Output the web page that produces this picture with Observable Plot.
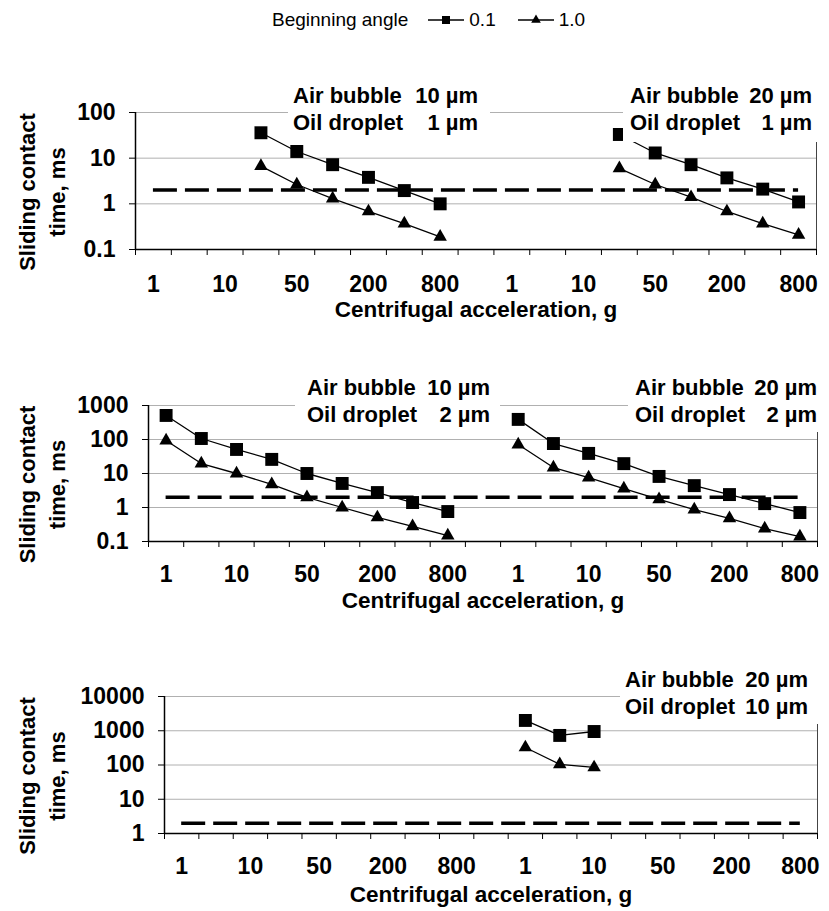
<!DOCTYPE html>
<html>
<head>
<meta charset="utf-8">
<script src="https://cdn.jsdelivr.net/npm/d3@7"></script>
<script src="https://cdn.jsdelivr.net/npm/@observablehq/plot@0.6"></script>
<style>
  html, body { margin: 0; padding: 0; overflow: hidden; background: #fff; }
  #root { position: relative; width: 829px; height: 911px; overflow: hidden; background: #fff;
          font-family: "Liberation Sans", Arial, Helvetica, sans-serif; color: #000; }
  #legend { position: absolute; top: 8px; left: 272px; height: 24px; display: flex; align-items: center;
            font-size: 19px; line-height: 24px; white-space: nowrap; }
  #legend .sw { display: block; margin: 0 5px 0 0; }
  .note { position: absolute; background: #fff; font-weight: bold; font-size: 22px; line-height: 27px; }
  .note .row { display: flex; justify-content: space-between; white-space: nowrap; }
</style>
</head>
<body>
<div id="root">
  <div id="legend"></div>
</div>
<script>
// ---------------- DATA ----------------
const accelCategories = ["1", "5", "10", "25", "50", "100", "200", "400", "800"];
const labeledAccel = ["1", "10", "50", "200", "800"];
const angleLabels = ["0.1", "1.0"];
const legendTitle = "Beginning angle";
const thresholdMs = 2;
const xTitle = "Centrifugal acceleration, g";
const yTitle = "Sliding contact\ntime, ms";
const bubbleLabel = "Air bubble";
const dropletLabel = "Oil droplet";

// Panel 1 — oil droplet 1 µm
const p1Cats = ["25", "50", "100", "200", "400", "800"];
const p1Bubble10Angle01 = [36, 14, 7.2, 3.8, 1.95, 1.0];
const p1Bubble10Angle10 = [6.7, 2.65, 1.3, 0.68, 0.37, 0.19];
const p1Bubble20Angle01 = [33, 13, 7.2, 3.7, 2.1, 1.1];
const p1Bubble20Angle10 = [6.0, 2.65, 1.4, 0.68, 0.37, 0.21];
const p1YTicks = [0.1, 1, 10, 100];
const p1Notes = [["10 µm", "1 µm"], ["20 µm", "1 µm"]];

// Panel 2 — oil droplet 2 µm
const p2Cats = ["1", "5", "10", "25", "50", "100", "200", "400", "800"];
const p2Bubble10Angle01 = [510, 107, 51, 26, 10, 5.1, 2.75, 1.4, 0.76];
const p2Bubble10Angle10 = [93, 19.6, 10, 4.8, 2.0, 1.0, 0.51, 0.28, 0.15];
const p2Bubble20Angle01 = [390, 76, 39, 19.5, 8.2, 4.4, 2.4, 1.3, 0.71];
const p2Bubble20Angle10 = [71, 15, 7.6, 3.6, 1.74, 0.87, 0.48, 0.24, 0.14];
const p2YTicks = [0.1, 1, 10, 100, 1000];
const p2Notes = [["10 µm", "2 µm"], ["20 µm", "2 µm"]];

// Panel 3 — oil droplet 10 µm
const p3Cats = ["1", "5", "10"];
const p3Bubble20Angle01 = [2000, 730, 950];
const p3Bubble20Angle10 = [325, 105, 85];
const p3YTicks = [1, 10, 100, 1000, 10000];
const p3Notes = [["20 µm", "10 µm"]];

// ---------------- BUILD ----------------
// Category axis: left half, an empty slot, right half
const axisCategories = [...accelCategories.map(c => "L" + c), "gap", ...accelCategories.map(c => "R" + c)];
const xIndex = (half, cat) => axisCategories.indexOf(half + cat);
const tickIdx = axisCategories.map((c, i) => i).filter(i => axisCategories[i] !== "gap" && labeledAccel.includes(axisCategories[i].slice(1)));
const boundaries = d3.range(axisCategories.length + 1).map(i => i - 0.5);
const firstIdx = 0, lastIdx = axisCategories.length - 1;

function rows(half, cats, values, angle) {
  return values.map((v, i) => ({x: xIndex(half, cats[i]), y: v, angle, half}));
}

const root = document.getElementById("root");
const FONT = '"Liberation Sans", Arial, Helvetica, sans-serif';

function panel(cfg) {
  const {top, height, marginTop, marginBottom, marginLeft, marginRight, yTicks, data, labelPad, titleDy} = cfg;
  const frameH = height - marginTop - marginBottom;
  const yDomain = [yTicks[0], yTicks[yTicks.length - 1]];
  const sq = data.filter(d => d.angle === angleLabels[0]);
  const tri = data.filter(d => d.angle === angleLabels[1]);
  const chart = Plot.plot({
    width: 829, height, marginTop, marginBottom, marginLeft, marginRight,
    style: {fontFamily: FONT, fontSize: "23px", fontWeight: "bold", color: "#000", background: "transparent", overflow: "visible"},
    x: {type: "linear", domain: [-0.5, axisCategories.length - 0.5], ticks: tickIdx,
        tickFormat: i => axisCategories[i].slice(1), tickSize: 0, tickPadding: labelPad, label: null},
    y: {type: "log", domain: yDomain, ticks: yTicks, tickFormat: d => String(d), tickSize: 6, tickPadding: 14, label: null},
    marks: [
      Plot.ruleY(yTicks.slice(1), {y: d => d, stroke: "#b0b0b0", strokeWidth: 1}),
      Plot.ruleX([lastIdx + 0.5], {x: d => d, stroke: "#444", strokeWidth: 1}),
      Plot.ruleX([-0.5], {x: d => d, stroke: "#000", strokeWidth: 1.5}),
      Plot.ruleY([yDomain[0]], {y: d => d, stroke: "#000", strokeWidth: 1.5}),
      Plot.ruleX(boundaries, {x: d => d, insetTop: frameH, insetBottom: -6, stroke: "#000", strokeWidth: 1}),
      Plot.ruleY([thresholdMs], {y: d => d, x1: () => firstIdx, x2: () => lastIdx, stroke: "#000", strokeWidth: 3.5, strokeDasharray: "24,8"}),
      Plot.line(data, {x: "x", y: "y", z: d => d.angle + d.half, stroke: "#000", strokeWidth: 1.3}),
      Plot.dot(sq, {x: "x", y: "y", symbol: "square", r: 7.3, fill: "#000", stroke: "none"}),
      Plot.dot(tri, {x: "x", y: "y", symbol: "triangle", r: 5, fill: "#000", stroke: "none"}),
      Plot.text([xTitle], {text: d => d, frameAnchor: "bottom", dy: titleDy, lineAnchor: "middle", textAnchor: "middle",
                           fontSize: 22.5, fontWeight: "bold", fill: "#000"}),
      Plot.text([yTitle], {text: d => d, frameAnchor: "left", dx: 40 - marginLeft, dy: 11, rotate: -90,
                           lineAnchor: "middle", textAnchor: "middle", lineHeight: 1.38, fontSize: 22, fontWeight: "bold", fill: "#000"})
    ]
  });
  chart.style.position = "absolute";
  chart.style.left = "0px";
  chart.style.top = top + "px";
  root.appendChild(chart);
}

function note(texts, box) {
  const div = document.createElement("div");
  div.className = "note";
  div.style.left = box.left + "px";
  div.style.top = box.top + "px";
  div.style.width = box.width + "px";
  div.style.padding = box.padding;
  [[bubbleLabel, texts[0]], [dropletLabel, texts[1]]].forEach(([a, b]) => {
    const r = document.createElement("div");
    r.className = "row";
    const s1 = document.createElement("span"); s1.textContent = a;
    const s2 = document.createElement("span"); s2.textContent = b;
    r.appendChild(s1); r.appendChild(s2);
    div.appendChild(r);
  });
  root.appendChild(div);
}

// Panel 1
panel({top: 60, height: 260, marginTop: 52, marginBottom: 71, marginLeft: 135, marginRight: 13,
  yTicks: p1YTicks, labelPad: 26, titleDy: 60,
  data: [
    ...rows("L", p1Cats, p1Bubble10Angle01, angleLabels[0]),
    ...rows("L", p1Cats, p1Bubble10Angle10, angleLabels[1]),
    ...rows("R", p1Cats, p1Bubble20Angle01, angleLabels[0]),
    ...rows("R", p1Cats, p1Bubble20Angle10, angleLabels[1])
  ]});
note(p1Notes[0], {left: 288, top: 78, width: 185, padding: "4px 12px 6px 5px"});
note(p1Notes[1], {left: 623, top: 78, width: 182, padding: "4px 17px 6px 7px"});

// Panel 2
panel({top: 330, height: 290, marginTop: 75, marginBottom: 79, marginLeft: 148, marginRight: 12,
  yTicks: p2YTicks, labelPad: 24, titleDy: 59,
  data: [
    ...rows("L", p2Cats, p2Bubble10Angle01, angleLabels[0]),
    ...rows("L", p2Cats, p2Bubble10Angle10, angleLabels[1]),
    ...rows("R", p2Cats, p2Bubble20Angle01, angleLabels[0]),
    ...rows("R", p2Cats, p2Bubble20Angle10, angleLabels[1])
  ]});
note(p2Notes[0], {left: 295, top: 370, width: 183, padding: "4px 10px 4px 12px"});
note(p2Notes[1], {left: 628, top: 370, width: 182, padding: "4px 12px 4px 7px"});

// Panel 3
panel({top: 630, height: 281, marginTop: 66, marginBottom: 78, marginLeft: 164, marginRight: 12,
  yTicks: p3YTicks, labelPad: 24, titleDy: 61,
  data: [
    ...rows("R", p3Cats, p3Bubble20Angle01, angleLabels[0]),
    ...rows("R", p3Cats, p3Bubble20Angle10, angleLabels[1])
  ]});
note(p3Notes[0], {left: 620, top: 662, width: 183, padding: "4px 26px 4px 5px"});

// Legend
const legend = document.getElementById("legend");
function addText(t, mr) {
  const s = document.createElement("span");
  s.textContent = t;
  s.style.marginRight = mr + "px";
  legend.appendChild(s);
}
function addSwatch(kind) {
  const ns = "http://www.w3.org/2000/svg";
  const svg = document.createElementNS(ns, "svg");
  svg.setAttribute("width", 36); svg.setAttribute("height", 16);
  svg.setAttribute("class", "sw");
  const ln = document.createElementNS(ns, "line");
  ln.setAttribute("x1", 0); ln.setAttribute("x2", 36); ln.setAttribute("y1", 8); ln.setAttribute("y2", 8);
  ln.setAttribute("stroke", "#000"); ln.setAttribute("stroke-width", 1.5);
  svg.appendChild(ln);
  const m = document.createElementNS(ns, "path");
  m.setAttribute("d", d3.symbol(kind === "square" ? d3.symbolSquare : d3.symbolTriangle, kind === "square" ? 64 : 40)());
  m.setAttribute("transform", "translate(18,8)");
  m.setAttribute("fill", "#000");
  svg.appendChild(m);
  legend.appendChild(svg);
}
addText(legendTitle, 20);
addSwatch("square");
addText(angleLabels[0], 22);
addSwatch("triangle");
addText(angleLabels[1], 0);
</script>
</body>
</html>
